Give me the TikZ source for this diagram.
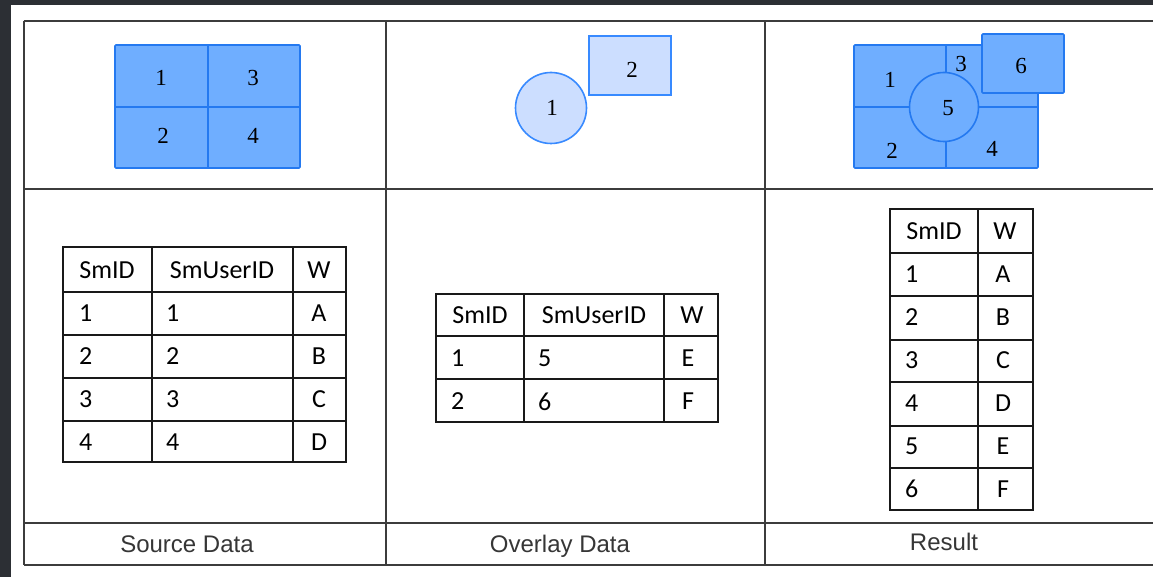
\documentclass[tikz,border=0pt]{standalone}
\usepackage{fontspec}
\setmainfont{Liberation Serif}
\newfontfamily\tabfont{Carlito}
\newfontfamily\capfont{Liberation Sans}
\definecolor{bggray}{HTML}{2C2F34}
\definecolor{framegray}{HTML}{3C3C3C}
\definecolor{polyfill}{RGB}{111,174,255}
\definecolor{polyedge}{RGB}{36,121,240}
\definecolor{lightfill}{RGB}{204,222,255}
\definecolor{lightedge}{RGB}{56,138,255}
\definecolor{capgray}{HTML}{363636}
\tikzset{
	frameline/.style = {draw=framegray, line width=2pt},
	polydark/.style = {fill=polyfill, draw=polyedge, line width=1.6pt,
		rounded corners=1pt},% polygone plein
	polylight/.style = {fill=lightfill, draw=lightedge, line width=1.6pt},% couche de superposition
	polyline/.style = {draw=polyedge, line width=1.6pt},
	shapenum/.style = {inner sep=0pt, font=\fontsize{23}{23}\selectfont},
	tabline/.style = {draw=black!90, line width=1.6pt},
	cellhead/.style = {inner sep=0pt, font=\tabfont\fontsize{26}{26}\selectfont},
	cellval/.style = {cellhead, anchor=west},% valeur alignee a gauche
	capnode/.style = {anchor=base, text=capgray,
		font=\capfont\fontsize{24}{24}\selectfont}
}
\begin{document}
\begin{tikzpicture}[x=1pt,y=-1pt]
	\useasboundingbox (0,0) rectangle (1153,577);
	\fill[bggray] (0,0) rectangle (1153,577);
	\fill[white] (11,5) rectangle (1153,577);
	% cadre
	\foreach \y in {21.5,189,523,565}
		\draw[frameline] (23.5,\y) -- (1153,\y);
	\foreach \x in {23.5,386,765}
		\draw[frameline] (\x,21.5) -- (\x,565);
	% source data
	\draw[polydark] (115,45) rectangle (300,168);
	\draw[polyline] (208,45) -- (208,168) (115,107) -- (300,107);
	\node[shapenum] (src1) at (161,78) {1};
	\node[shapenum] (src3) at (253,78) {3};
	\node[shapenum] (src2) at (163,136) {2};
	\node[shapenum] (src4) at (253,136) {4};
	% overlay data
	\draw[polylight] (551,108) circle (35.5pt);
	\draw[polylight] (589,36) rectangle (671,95);
	\node[shapenum] (ovl1) at (552,108) {1};
	\node[shapenum] (ovl2) at (632,70) {2};
	% result
	\draw[polydark] (854,45) rectangle (1038,168);
	\draw[polyline] (946,45) -- (946,73) (946,141) -- (946,168)
		(854,107) -- (910,107) (978,107) -- (1038,107);
	\draw[polydark] (944,107) circle (34.5pt);
	\draw[polydark] (982,34) rectangle (1064,93);
	\node[shapenum] (res1) at (890,80) {1};
	\node[shapenum] (res3) at (961,64) {3};
	\node[shapenum] (res6) at (1021,66) {6};
	\node[shapenum] (res5) at (948,108) {5};
	\node[shapenum] (res2) at (892,151) {2};
	\node[shapenum] (res4) at (992,149) {4};
	% table source
	\draw[tabline] (63,247) rectangle (346,462);
	\foreach \y in {292,335,378,421}
		\draw[tabline] (63,\y) -- (346,\y);
	\foreach \x in {152,293}
		\draw[tabline] (\x,247) -- (\x,462);
	\node[cellhead] (srcid) at (107,270) {SmID};
	\node[cellhead] (srcuser) at (222,270) {SmUserID};
	\node[cellhead] (srcw) at (319,270) {W};
	\foreach \w [count=\i] in {A,B,C,D}{
		\node[cellval] (srcid\i) at (79,270+43*\i) {\i};
		\node[cellval] (srcuser\i) at (166,270+43*\i) {\i};
		\node[cellhead] (srcw\i) at (319,270+43*\i) {\w};
	}
	% table overlay
	\draw[tabline] (436,294) rectangle (718,422);
	\foreach \y in {336,379}
		\draw[tabline] (436,\y) -- (718,\y);
	\foreach \x in {524,664}
		\draw[tabline] (\x,294) -- (\x,422);
	\node[cellhead] (ovlid) at (480,315.5) {SmID};
	\node[cellhead] (ovluser) at (594,315.5) {SmUserID};
	\node[cellhead] (ovlw) at (692,315.5) {W};
	\foreach \u/\w [count=\i] in {5/E,6/F}{
		\node[cellval] (ovlid\i) at (451,315.5+43*\i) {\i};
		\node[cellval] (ovluser\i) at (538,315.5+43*\i) {\u};
		\node[cellhead] (ovlw\i) at (688,315.5+43*\i) {\w};
	}
	% table result
	\draw[tabline] (890,209) rectangle (1033,510);
	\foreach \y in {253,296,340,382,426,468}
		\draw[tabline] (890,\y) -- (1033,\y);
	\draw[tabline] (978,209) -- (978,510);
	\node[cellhead] (resid) at (934,231) {SmID};
	\node[cellhead] (resw) at (1005,231) {W};
	\foreach \w [count=\i] in {A,B,C,D,E,F}{
		\node[cellval] (resid\i) at (905,231+43*\i) {\i};
		\node[cellhead] (resw\i) at (1003,231+43*\i) {\w};
	}
	% legendes
	\node[capnode] (capsrc) at (187,552) {Source Data};
	\node[capnode] (capovl) at (560,552) {Overlay Data};
	\node[capnode] (capres) at (944,550) {Result};
\end{tikzpicture}
\end{document}
